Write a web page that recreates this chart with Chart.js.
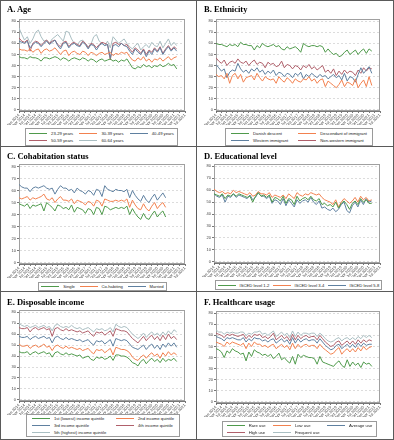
<!DOCTYPE html>
<html>
<head>
<meta charset="utf-8">
<script src="https://cdn.jsdelivr.net/npm/chart.js@4.4.1/dist/chart.umd.min.js"></script>
<style>
    body { margin: 0; background: #fff; }
    #fig { position: relative; width: 394px; height: 440px; overflow: hidden; background: #fff; }
    .panel { position: absolute; }
    .panel canvas { position: absolute; left: 0; top: 0; }
    .title { position: absolute; left: 7px; font: bold 8.5px "Liberation Serif", serif; color: #000; white-space: nowrap; line-height: 8px; }
    .legend { position: absolute; box-sizing: border-box; border: 1px solid #9a9a9a; display: grid; align-content: center; justify-content: space-around; font: 4.2px "Liberation Sans", Arial, sans-serif; color: #222; overflow: hidden; background: #fff; }
    .item { display: flex; align-items: center; white-space: nowrap; height: 7px; }
    .key { display: inline-block; width: 18px; height: 0; border-top: 1px solid; margin-right: 4px; }
    .rule { position: absolute; background: #5a5a5a; }
</style>
</head>
<body>
<div id="fig"></div>
<script>
// x axis: one tick label every second observation
const tickLabels = [
    "Jan 2014", "Apr 2014", "Jul 2014", "Oct 2014", "Jan 2015", "Apr 2015", "Jul 2015", "Oct 2015",
    "Jan 2016", "Apr 2016", "Jul 2016", "Oct 2016", "Jan 2017", "Apr 2017", "Jul 2017", "Oct 2017",
    "Jan 2018", "Apr 2018", "Jul 2018", "Oct 2018", "Jan 2019", "Apr 2019", "Jul 2019", "Oct 2019",
    "Jan 2020", "Apr 2020", "Jul 2020", "Oct 2020", "Jan 2021", "Apr 2021", "Jul 2021"
];
const yTicks = [0, 10, 20, 30, 40, 50, 60, 70, 80];

// A. Age
const ageNames = ["23-29 years", "30-39 years", "40-49 years", "50-59 years", "60-64 years"];
const age2329 = [48,47,47,46,48,47,47,46,44,47, 47,46,47,48,47,45,47,46,44,46, 47,46,45,47,46,44,46,45,43,45, 46,44,45,46,44,45,43,45,44,46, 42,38,37,39,38,41,39,40,38,40, 39,41,39,40,42,40,41,37];
const age3039 = [55,54,54,53,55,52,54,55,51,54, 55,53,54,56,53,50,53,54,49,52, 53,51,50,53,52,49,52,51,49,51, 52,50,51,52,49,51,50,52,51,52, 48,45,44,47,45,48,44,46,43,46, 45,47,44,46,48,45,47,48];
const age4049 = [62,61,60,62,56,59,61,60,57,60, 62,59,61,63,58,55,60,61,56,59, 60,58,57,61,59,55,59,58,54,58, 60,58,59,47,58,59,57,60,58,57, 53,50,55,52,50,54,48,53,50,55, 52,56,50,54,57,53,56,53];
const age5059 = [65,62,61,63,53,60,62,61,58,61, 63,60,62,63,59,57,61,62,57,60, 61,59,58,62,60,56,60,59,56,59, 61,60,59,45,60,61,59,60,58,59, 55,52,56,54,51,55,50,54,52,56, 53,57,51,55,58,54,57,55];
const age6064 = [74,68,63,66,60,64,70,72,66,62, 63,60,64,66,68,65,62,71,70,64, 60,58,62,63,60,57,59,66,68,62, 60,58,62,56,66,63,60,62,64,60, 57,55,58,60,54,57,59,56,61,58, 57,62,56,60,64,58,61,58];

// B. Ethnicity
const ethNames = ["Danish descent", "Descendant of immigrant", "Western immigrant", "Non-western immigrant"];
const ethDanish = [60,59,59,58,57,59,58,59,57,61, 59,59,58,58,54,58,56,60,58,57, 58,59,57,58,55,54,57,55,56,57, 55,52,60,58,57,58,58,57,58,57, 52,55,52,50,51,48,49,52,54,50, 52,54,50,53,55,51,55,53];
const ethDescendant = [32,30,31,28,33,24,31,33,28,32, 25,29,30,31,27,33,29,26,30,28, 27,28,24,30,27,25,29,27,24,28, 26,25,28,27,30,26,28,24,27,28, 21,26,24,22,20,23,27,21,25,24, 22,28,20,24,27,21,30,22];
const ethWestern = [41,38,35,37,29,34,36,35,42,37, 34,36,33,37,35,38,34,36,32,35, 33,36,31,34,33,30,33,32,29,33, 31,34,28,32,30,33,31,29,32,30, 31,28,30,32,29,31,27,33,26,30, 29,25,32,38,33,36,39,33];
const ethNonWestern = [47,44,42,45,40,43,44,42,46,43, 42,44,40,43,45,41,43,42,38,43, 41,42,39,40,44,38,41,40,37,40, 39,36,40,38,41,37,39,36,38,40, 34,36,33,37,31,35,32,36,33,35, 34,31,36,33,38,35,38,37];

// C. Cohabitation status
const cohNames = ["Single", "Co-habiting", "Married"];
const cohSingle = [49,48,47,49,45,48,47,48,49,43, 50,48,46,43,48,47,45,46,44,48, 42,46,45,44,41,45,44,40,46,45, 40,47,46,44,45,46,45,46,45,47, 40,45,41,38,36,41,37,36,40,43, 38,41,43,38];
const cohCohabiting = [54,53,54,55,52,54,53,54,55,57, 53,52,54,50,53,55,52,52,51,53, 49,52,51,50,48,51,50,47,52,51, 47,53,52,51,51,52,51,52,51,53, 46,52,48,45,44,49,45,43,47,50, 45,48,50,46];
const cohMarried = [65,63,62,62,59,62,63,62,63,64, 62,61,62,57,61,64,62,62,60,61, 58,62,60,59,57,60,59,56,61,60, 55,64,61,60,59,61,60,60,59,61, 54,60,56,53,51,56,52,50,54,57, 52,55,58,54];

// D. Educational level
const eduNames = ["ISCED level 1-2", "ISCED level 3-4", "ISCED level 5-8"];
const eduIsced12 = [57,56,55,57,53,56,55,57,55,57, 56,55,54,55,50,55,58,55,56,54, 56,50,54,53,51,55,49,53,52,48, 55,51,53,54,52,55,52,51,53,48, 49,47,48,46,50,45,49,51,48,44, 49,51,48,53,50,52,49,49];
const eduIsced34 = [61,59,58,59,57,58,57,60,58,59, 58,57,56,58,55,56,59,57,57,56, 58,54,56,55,54,56,53,57,55,53, 58,56,55,57,56,58,57,56,57,54, 52,51,50,48,52,46,50,53,51,49, 51,54,50,55,52,54,51,52];
const eduIsced58 = [57,55,54,56,50,55,54,57,54,56, 55,54,53,56,52,54,58,55,55,53, 55,49,52,51,48,53,47,52,49,46, 52,49,51,52,50,54,50,48,51,45, 46,44,43,45,42,44,48,50,43,41, 47,50,46,52,48,53,50,51];

// E. Disposable income
const incNames = ["1st (lowest) income quintile", "2nd income quintile", "3rd income quintile", "4th income quintile", "5th (highest) income quintile"];
const incQ1 = [44,43,43,44,41,43,44,42,43,44, 42,43,39,43,44,42,41,43,41,42, 41,40,41,38,39,40,37,36,39,38, 39,37,38,40,36,41,41,40,40,39, 37,34,33,31,35,37,33,36,38,35, 37,34,38,35,37,36,38,35];
const incQ2 = [51,49,49,50,47,49,50,48,49,51, 48,49,45,49,50,48,47,49,47,48, 47,46,47,45,46,47,44,42,46,45, 46,43,45,47,41,48,47,46,46,45, 43,39,37,36,39,41,38,41,43,40, 42,38,43,40,44,41,43,41];
const incQ3 = [58,57,57,58,55,57,58,56,57,58, 56,57,52,57,58,56,55,57,55,56, 55,54,55,53,54,55,52,50,54,53, 54,51,53,55,49,56,55,54,55,54, 51,48,47,46,48,50,46,49,51,47, 50,46,51,48,52,49,52,48];
const incQ4 = [66,65,65,66,62,65,66,64,65,66, 64,65,58,65,66,64,63,65,63,64, 63,62,63,61,62,63,60,58,62,61, 62,59,61,63,58,65,64,63,63,62, 59,56,54,52,55,58,54,57,59,55, 58,54,59,55,60,56,58,55];
const incQ5 = [70,68,67,68,66,67,68,66,67,68, 66,67,63,68,69,67,66,67,66,68, 66,65,66,64,65,66,64,62,65,64, 65,63,64,66,62,69,67,66,67,66, 63,60,58,56,58,61,57,60,62,59, 61,58,62,59,63,60,64,62];

// F. Healthcare usage
const hcNames = ["Rare use", "Low use", "Average use", "High use", "Frequent use"];
const hcRare = [48,47,45,40,46,44,48,46,45,43, 44,37,45,41,47,45,44,42,43,41, 43,39,41,44,38,40,37,35,41,34, 43,40,42,41,40,40,39,34,41,36, 35,34,33,32,35,37,33,31,38,32, 36,33,35,31,36,34,35,32];
const hcLow = [54,53,52,50,54,52,54,53,52,51, 53,48,53,50,54,52,52,50,51,49, 51,52,48,50,52,49,51,47,53,48, 52,49,51,52,50,51,51,48,52,49, 47,45,43,44,47,49,43,46,48,45, 48,45,49,46,50,47,49,50];
const hcAverage = [59,58,57,55,58,57,58,57,56,56, 58,54,57,55,58,57,57,55,56,54, 56,57,53,55,57,54,56,52,58,53, 57,54,56,57,55,56,56,53,57,54, 51,49,47,48,51,52,48,50,52,49, 52,49,53,50,53,51,52,52];
const hcHigh = [62,61,60,58,61,60,61,60,59,60, 61,57,60,58,61,60,61,58,59,57, 59,62,56,58,60,57,59,55,61,56, 60,57,59,60,58,59,59,56,60,57, 54,52,50,51,54,55,51,53,55,52, 55,52,56,53,56,54,56,55];
const hcFrequent = [65,63,63,61,63,62,63,62,62,63, 63,60,62,61,63,63,64,61,62,60, 62,64,59,61,63,60,62,58,64,59, 63,60,62,62,61,62,62,59,62,60, 57,55,54,55,57,58,55,57,58,56, 58,56,59,57,60,58,60,58];

const GREEN = "#4f9a4b", ORANGE = "#f2814f", BLUE = "#5f80a0", MAROON = "#b0606b", LIGHT = "#a9bec2";

const panels = [
    { title: "A. Age", names: ageNames, values: [age2329, age3039, age4049, age5059, age6064],
      colors: [GREEN, ORANGE, BLUE, MAROON, LIGHT],
      box: [0, 0, 197, 147], titleTop: 5, area: { L: 19, R: 185, T: 19, B: 111 },
      legend: { l: 25, t: 128, w: 153, h: 18, cols: 3 } },
    { title: "B. Ethnicity", names: ethNames, values: [ethDanish, ethDescendant, ethWestern, ethNonWestern],
      colors: [GREEN, ORANGE, BLUE, MAROON],
      box: [197, 0, 197, 147], titleTop: 5, area: { L: 19, R: 183, T: 19, B: 111 },
      legend: { l: 28, t: 128, w: 148, h: 18, cols: 2 } },
    { title: "C. Cohabitation status", names: cohNames, values: [cohSingle, cohCohabiting, cohMarried],
      colors: [GREEN, ORANGE, BLUE],
      box: [0, 147, 197, 145], titleTop: 5, area: { L: 19, R: 185, T: 17, B: 117 },
      legend: { l: 38, t: 135, w: 129, h: 9, cols: 3 } },
    { title: "D. Educational level", names: eduNames, values: [eduIsced12, eduIsced34, eduIsced58],
      colors: [GREEN, ORANGE, BLUE],
      box: [197, 147, 197, 145], titleTop: 5, area: { L: 17, R: 183, T: 17, B: 116 },
      legend: { l: 18, t: 133, w: 167, h: 10, cols: 3 } },
    { title: "E. Disposable income", names: incNames, values: [incQ1, incQ2, incQ3, incQ4, incQ5],
      colors: [GREEN, ORANGE, BLUE, MAROON, LIGHT],
      box: [0, 292, 197, 148], titleTop: 6, area: { L: 19, R: 185, T: 18, B: 109 },
      legend: { l: 26, t: 122, w: 154, h: 23, cols: 2 } },
    { title: "F. Healthcare usage", names: hcNames, values: [hcRare, hcLow, hcAverage, hcHigh, hcFrequent],
      colors: [GREEN, ORANGE, BLUE, MAROON, LIGHT],
      box: [197, 292, 197, 148], titleTop: 6, area: { L: 19, R: 183, T: 19, B: 111 },
      legend: { l: 25, t: 129, w: 155, h: 16, cols: 3 } }
];

const plotFrame = {
    id: "plotFrame",
    beforeDatasetsDraw(chart) {
        const a = chart.chartArea;
        const ctx = chart.ctx;
        ctx.save();
        ctx.strokeStyle = "#a0a0a0";
        ctx.lineWidth = 1;
        ctx.strokeRect(a.left + 0.5, a.top + 0.5, a.right - a.left - 1, a.bottom - a.top - 1);
        ctx.restore();
    }
};

const fig = document.getElementById("fig");

panels.forEach(function (p) {
    const div = document.createElement("div");
    div.className = "panel";
    div.style.left = p.box[0] + "px";
    div.style.top = p.box[1] + "px";
    div.style.width = p.box[2] + "px";
    div.style.height = p.box[3] + "px";
    fig.appendChild(div);

    const a = p.area;
    const h = a.B + 14;
    const canvas = document.createElement("canvas");
    canvas.width = p.box[2];
    canvas.height = h;
    canvas.style.width = p.box[2] + "px";
    canvas.style.height = h + "px";
    div.appendChild(canvas);

    const title = document.createElement("div");
    title.className = "title";
    title.style.top = p.titleTop + "px";
    title.textContent = p.title;
    div.appendChild(title);

    const tickFont = { size: 4, family: "'Liberation Sans', Arial, sans-serif" };

    new Chart(canvas.getContext("2d"), {
        type: "line",
        data: {
            datasets: p.values.map(function (vals, i) {
                return {
                    label: p.names[i],
                    data: vals.map(function (v, j) { return { x: j, y: v }; }),
                    borderColor: p.colors[i],
                    borderWidth: 1,
                    pointRadius: 0,
                    tension: 0,
                    fill: false
                };
            })
        },
        options: {
            responsive: false,
            animation: false,
            devicePixelRatio: 1,
            layout: { padding: { left: 0, right: p.box[2] - a.R, top: a.T, bottom: 0 } },
            plugins: { legend: { display: false }, tooltip: { enabled: false } },
            scales: {
                x: {
                    type: "linear",
                    min: 0,
                    max: (tickLabels.length - 1) * 2,
                    afterBuildTicks: function (scale) {
                        scale.ticks = tickLabels.map(function (t, i) { return { value: i * 2 }; });
                    },
                    afterFit: function (scale) { scale.height = h - a.B; },
                    grid: { drawOnChartArea: false, tickLength: 2, color: "#777" },
                    border: { color: "#777" },
                    ticks: {
                        autoSkip: false, minRotation: 45, maxRotation: 45, padding: 0,
                        font: tickFont, color: "#444",
                        callback: function (v) { return tickLabels[v / 2]; }
                    }
                },
                y: {
                    min: -1,
                    max: 82,
                    afterBuildTicks: function (scale) {
                        scale.ticks = yTicks.map(function (v) { return { value: v }; });
                    },
                    afterFit: function (scale) { scale.width = a.L; },
                    grid: { color: "#dcdcdc", tickLength: 2, tickColor: "#777" },
                    border: { color: "#666", dash: [2, 2] },
                    ticks: { padding: 1, font: tickFont, color: "#444" }
                }
            }
        },
        plugins: [plotFrame]
    });

    const lg = document.createElement("div");
    lg.className = "legend";
    lg.style.left = p.legend.l + "px";
    lg.style.top = p.legend.t + "px";
    lg.style.width = p.legend.w + "px";
    lg.style.height = p.legend.h + "px";
    lg.style.gridTemplateColumns = "repeat(" + p.legend.cols + ", auto)";
    p.names.forEach(function (name, i) {
        const item = document.createElement("div");
        item.className = "item";
        const key = document.createElement("span");
        key.className = "key";
        key.style.borderTopColor = p.colors[i];
        const txt = document.createElement("span");
        txt.textContent = name;
        item.appendChild(key);
        item.appendChild(txt);
        lg.appendChild(item);
    });
    div.appendChild(lg);
});

// panel dividers and outer frame
[
    [0, 0, 394, 1], [0, 439, 394, 1], [0, 0, 1, 440], [393, 0, 1, 440],
    [196, 0, 1, 440], [0, 146, 394, 1], [0, 291, 394, 1]
].forEach(function (r) {
    const d = document.createElement("div");
    d.className = "rule";
    d.style.left = r[0] + "px";
    d.style.top = r[1] + "px";
    d.style.width = r[2] + "px";
    d.style.height = r[3] + "px";
    fig.appendChild(d);
});
</script>
</body>
</html>
